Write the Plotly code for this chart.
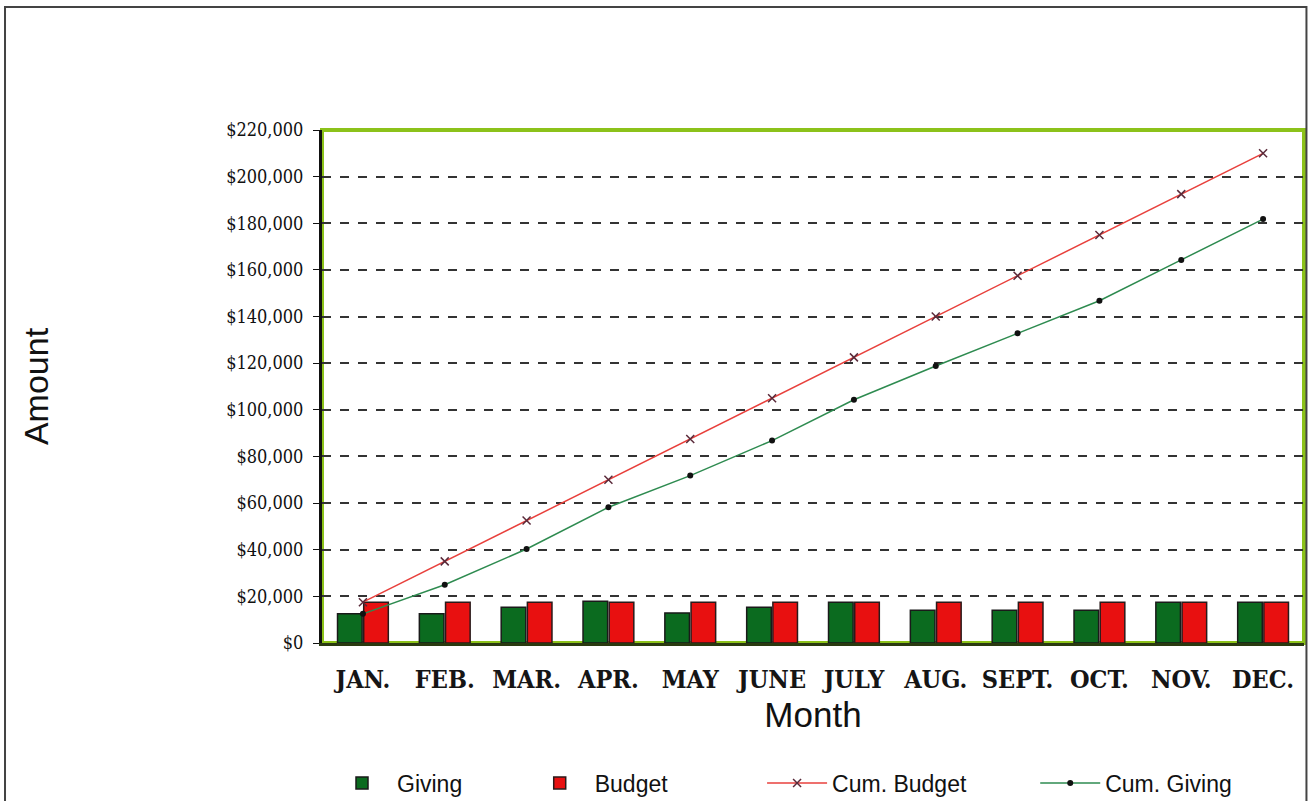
import plotly.graph_objects as go

months = ["JAN.", "FEB.", "MAR.", "APR.", "MAY", "JUNE", "JULY", "AUG.", "SEPT.", "OCT.", "NOV.", "DEC."]
giving = [12500, 12500, 15300, 17900, 12900, 15300, 17500, 14000, 14000, 14000, 17500, 17500]
budget = [17500] * 12
cum_budget = [17500, 35000, 52500, 70000, 87500, 105000, 122500, 140000, 157500, 175000, 192500, 210000]
cum_giving = [12500, 25000, 40300, 58200, 71800, 86800, 104300, 118800, 132800, 146800, 164300, 181800]
y_ticks = list(range(0, 220001, 20000))
y_tick_labels = ["$0"] + [f"${v:,}" for v in y_ticks[1:]]

NB = "\u00a0"
fig = go.Figure()
fig.add_trace(go.Bar(x=months, y=giving, name="Giving" + NB * 9,
                     marker=dict(color="#0b6b1f", line=dict(color="#1a1a1a", width=1.5))))
fig.add_trace(go.Bar(x=months, y=budget, name="Budget" + NB * 14,
                     marker=dict(color="#e81010", line=dict(color="#2a1a1a", width=1.5))))
fig.add_trace(go.Scatter(x=months, y=cum_budget, name="Cum. Budget" + NB * 10, mode="lines+markers",
                         line=dict(color="#e8403c", width=1.5),
                         marker=dict(symbol="x-thin", size=8, color="#5a2a3a",
                                     line=dict(color="#5a2a3a", width=1.5))))
fig.add_trace(go.Scatter(x=months, y=cum_giving, name="Cum. Giving", mode="lines+markers",
                         line=dict(color="#2e8b50", width=1.5),
                         marker=dict(symbol="circle", size=6, color="#111111")))

serif = "DejaVu Serif Condensed, DejaVu Serif, serif"
fig.update_layout(
    width=1309, height=801,
    margin=dict(l=322, r=5, t=130, b=158),
    paper_bgcolor="white", plot_bgcolor="white",
    barmode="group", bargap=0.36, bargroupgap=0.06,
    showlegend=True,
    legend=dict(orientation="h", xref="container", yref="container",
                x=327 / 1309, y=1 - 783 / 801, xanchor="left", yanchor="middle",
                font=dict(family="Liberation Sans", size=23, color="#111"),
                itemwidth=60, traceorder="normal", bgcolor="rgba(0,0,0,0)"),
    xaxis=dict(range=[-0.5, 11.5], showgrid=False, showline=True, linecolor="#2a3a10", linewidth=3,
               ticks="", tickfont=dict(family=serif, size=25, color="#151515", weight="bold"),
               ticklabelstandoff=12,
               title=dict(text="Month", font=dict(family="Liberation Sans", size=35, color="#111"), standoff=10),
               automargin=False),
    yaxis=dict(range=[0, 220000], tickvals=y_ticks, ticktext=y_tick_labels,
               showgrid=True, gridcolor="#333", griddash="dash", gridwidth=1.5,
               zeroline=False, showline=True, linecolor="#111", linewidth=3,
               ticks="outside", ticklen=6, tickcolor="#111",
               ticklabelstandoff=6,
               tickfont=dict(family=serif, size=18, color="#111"),
               title=dict(text="Amount", font=dict(family="Liberation Sans", size=34, color="#111"), standoff=168),
               automargin=False),
    shapes=[
        dict(type="rect", xref="paper", yref="paper", x0=0, x1=1, y0=0, y1=1,
             line=dict(color="#8cc21a", width=4), layer="below"),
        dict(type="rect", xref="paper", yref="paper", x0=-0.3228, x1=1.0025, y0=-0.4, y1=1.2398,
             line=dict(color="#444", width=2), layer="above"),
    ],
)

fig.write_html("out.html", config={"responsive": False, "displayModeBar": False},
               post_script="document.body.style.margin='0px';document.body.style.overflow='hidden';")
